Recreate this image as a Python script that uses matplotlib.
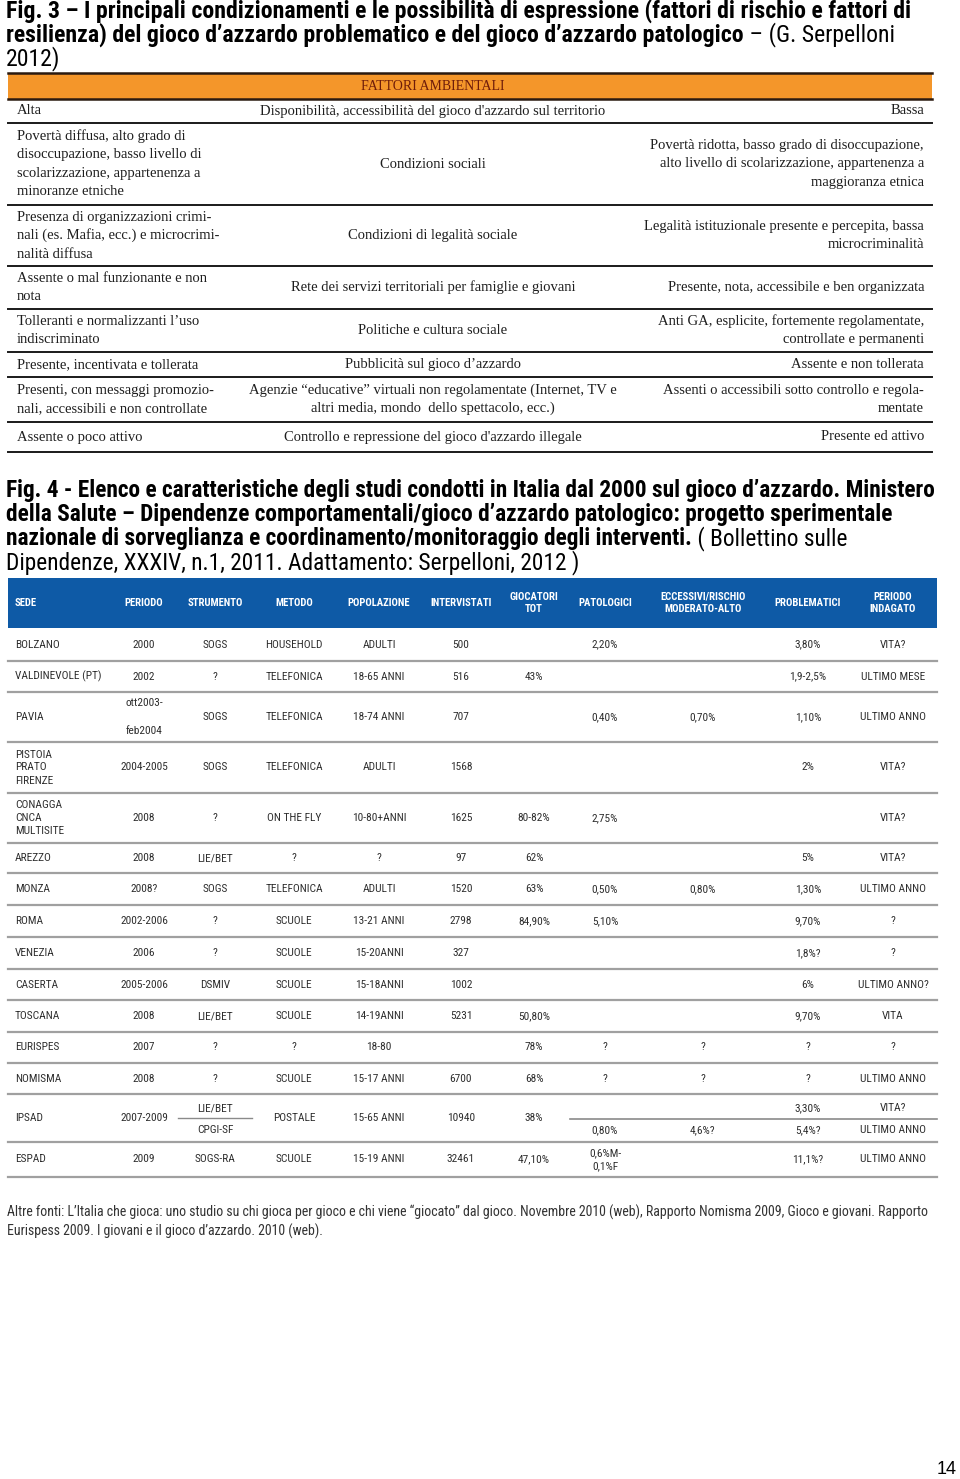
import matplotlib
matplotlib.use('Agg')
import matplotlib.pyplot as plt
from matplotlib import font_manager
from matplotlib.patches import Rectangle

# ---------------- Fig. 3 text ----------------
fig3_title = [
    [('Fig. 3 – I principali condizionamenti e le possibilità di espressione (fattori di rischio e fattori di', 'bold')],
    [('resilienza) del gioco d’azzardo problematico e del gioco d’azzardo patologico', 'bold'), (' – (G. Serpelloni', 'normal')],
    [('2012)', 'normal')],
]
f3_header = 'FATTORI AMBIENTALI'
f3_left = [
    'Alta',
    'Povertà diffusa, alto grado di\ndisoccupazione, basso livello di\nscolarizzazione, appartenenza a\nminoranze etniche',
    'Presenza di organizzazioni crimi-\nnali (es. Mafia, ecc.) e microcrimi-\nnalità diffusa',
    'Assente o mal funzionante e non\nnota',
    'Tolleranti e normalizzanti l’uso\nindiscriminato',
    'Presente, incentivata e tollerata',
    'Presenti, con messaggi promozio-\nnali, accessibili e non controllate',
    'Assente o poco attivo',
]
f3_mid = [
    "Disponibilità, accessibilità del gioco d'azzardo sul territorio",
    'Condizioni sociali',
    'Condizioni di legalità sociale',
    'Rete dei servizi territoriali per famiglie e giovani',
    'Politiche e cultura sociale',
    'Pubblicità sul gioco d’azzardo',
    'Agenzie “educative” virtuali non regolamentate (Internet, TV e\naltri media, mondo  dello spettacolo, ecc.)',
    "Controllo e repressione del gioco d'azzardo illegale",
]
f3_right = [
    'Bassa',
    'Povertà ridotta, basso grado di disoccupazione,\nalto livello di scolarizzazione, appartenenza a\nmaggioranza etnica',
    'Legalità istituzionale presente e percepita, bassa\nmicrocriminalità',
    'Presente, nota, accessibile e ben organizzata',
    'Anti GA, esplicite, fortemente regolamentate,\ncontrollate e permanenti',
    'Assente e non tollerata',
    'Assenti o accessibili sotto controllo e regola-\nmentate',
    'Presente ed attivo',
]

# ---------------- Fig. 4 text ----------------
fig4_title = [
    [('Fig. 4 - Elenco e caratteristiche degli studi condotti in Italia dal 2000 sul gioco d’azzardo. Ministero', 'bold')],
    [('della Salute – Dipendenze comportamentali/gioco d’azzardo patologico: progetto sperimentale', 'bold')],
    [('nazionale di sorveglianza e coordinamento/monitoraggio degli interventi.', 'bold'), (' ( Bollettino sulle', 'normal')],
    [('Dipendenze, XXXIV, n.1, 2011. Adattamento: Serpelloni, 2012 )', 'normal')],
]
f4_cols = ['SEDE', 'PERIODO', 'STRUMENTO', 'METODO', 'POPOLAZIONE', 'INTERVISTATI',
           'GIOCATORI\nTOT', 'PATOLOGICI', 'ECCESSIVI/RISCHIO\nMODERATO-ALTO',
           'PROBLEMATICI', 'PERIODO\nINDAGATO']
sede = ['BOLZANO', 'VALDINEVOLE (PT)', 'PAVIA', 'PISTOIA\nPRATO\nFIRENZE',
        'CONAGGA\nCNCA\nMULTISITE', 'AREZZO', 'MONZA', 'ROMA', 'VENEZIA', 'CASERTA',
        'TOSCANA', 'EURISPES', 'NOMISMA', 'IPSAD', 'ESPAD']
periodo = ['2000', '2002', 'ott2003-\n\nfeb2004', '2004-2005', '2008', '2008', '2008?',
           '2002-2006', '2006', '2005-2006', '2008', '2007', '2008', '2007-2009', '2009']
strumento = ['SOGS', '?', 'SOGS', 'SOGS', '?', 'LIE/BET', 'SOGS', '?', '?', 'DSMIV',
             'LIE/BET', '?', '?', ('LIE/BET', 'CPGI-SF'), 'SOGS-RA']
metodo = ['HOUSEHOLD', 'TELEFONICA', 'TELEFONICA', 'TELEFONICA', 'ON THE FLY', '?',
          'TELEFONICA', 'SCUOLE', 'SCUOLE', 'SCUOLE', 'SCUOLE', '?', 'SCUOLE',
          'POSTALE', 'SCUOLE']
popolazione = ['ADULTI', '18-65 ANNI', '18-74 ANNI', 'ADULTI', '10-80+ANNI', '?', 'ADULTI',
               '13-21 ANNI', '15-20ANNI', '15-18ANNI', '14-19ANNI', '18-80', '15-17 ANNI',
               '15-65 ANNI', '15-19 ANNI']
intervistati = ['500', '516', '707', '1568', '1625', '97', '1520', '2798', '327', '1002',
                '5231', '', '6700', '10940', '32461']
giocatori = ['', '43%', '', '', '80-82%', '62%', '63%', '84,90%', '', '', '50,80%', '78%',
             '68%', '38%', '47,10%']
patologici = ['2,20%', '', '0,40%', '', '2,75%', '', '0,50%', '5,10%', '', '', '', '?', '?',
              ('', '0,80%'), '0,6%M-\n0,1%F']
eccessivi = ['', '', '0,70%', '', '', '', '0,80%', '', '', '', '', '?', '?',
             ('', '4,6%?'), '']
problematici = ['3,80%', '1,9-2,5%', '1,10%', '2%', '', '5%', '1,30%', '9,70%', '1,8%?',
                '6%', '9,70%', '?', '?', ('3,30%', '5,4%?'), '11,1%?']
periodo_ind = ['VITA?', 'ULTIMO MESE', 'ULTIMO ANNO', 'VITA?', 'VITA?', 'VITA?',
               'ULTIMO ANNO', '?', '?', 'ULTIMO ANNO?', 'VITA', '?', 'ULTIMO ANNO',
               ('VITA?', 'ULTIMO ANNO'), 'ULTIMO ANNO']
footer = ['Altre fonti: L’Italia che gioca: uno studio su chi gioca per gioco e chi viene “giocato” '
          'dal gioco. Novembre 2010 (web), Rapporto Nomisma 2009, Gioco e giovani. Rapporto',
          'Eurispess 2009. I giovani e il gioco d’azzardo. 2010 (web).']
page_no = '14'

# ---------------- fonts: look for a condensed sans, else plain Liberation Sans ----------------
fonts = font_manager.fontManager.ttflist
names = {f.name for f in fonts}
NARROW_KW = None
for cand in ('Liberation Sans Narrow', 'Roboto Condensed', 'Open Sans Condensed',
             'Noto Sans Condensed', 'DejaVu Sans Condensed'):
    if cand in names:
        NARROW_KW = dict(family=cand)
        break
if NARROW_KW is None:
    for f in fonts:
        if f.stretch in ('condensed', 'semi-condensed') and 'Mono' not in f.name \
                and 'Serif' not in f.name:
            NARROW_KW = dict(family=f.name, fontstretch=f.stretch)
            break
HAVE_NARROW = NARROW_KW is not None
if not HAVE_NARROW:
    NARROW_KW = dict(family='Liberation Sans')
SERIF = 'Liberation Serif'

W, H = 960, 1479
fig = plt.figure(figsize=(W / 100, H / 100), dpi=100)
ax = fig.add_axes([0, 0, 1, 1])
ax.set_xlim(0, W)
ax.set_ylim(H, 0)
ax.axis('off')
rend = fig.canvas.get_renderer()


def size_for(s, width, **kw):
    t = ax.text(0, 0, s, fontsize=10, **kw)
    w = t.get_window_extent(renderer=rend).width
    t.remove()
    return 10 * width / w


def put(x, y, s, size, dy, ha='left', **kw):
    lines = s.split('\n')
    n = len(lines)
    for i, line in enumerate(lines):
        ax.text(x, y + (i - (n - 1) / 2) * dy, line, fontsize=size, ha=ha, va='center', **kw)


def rich_line(x, y, parts, size):
    for s, w in parts:
        t = ax.text(x, y, s, fontsize=size, fontweight=w, ha='left', va='center',
                    color='black', **NARROW_KW)
        x += t.get_window_extent(renderer=rend).width


# ---------------- titles ----------------
ts3 = size_for(fig3_title[0][0][0], 906, fontweight='bold', **NARROW_KW)
for i, parts in enumerate(fig3_title):
    rich_line(6, 11 + 24 * i, parts, ts3)
ts4 = size_for(fig4_title[0][0][0], 932, fontweight='bold', **NARROW_KW)
for i, parts in enumerate(fig4_title):
    rich_line(6, 491 + 24 * i, parts, ts4)

# ---------------- Fig. 3 table ----------------
x0, x1 = 8, 932
ax.add_patch(Rectangle((x0, 73), x1 - x0, 26, facecolor='#F4962A', edgecolor='none'))
for y in (73, 99):
    ax.plot([x0, x1], [y, y], color='#2a1a10', lw=1.8)
s3 = size_for(f3_mid[0], 349, family=SERIF)
ax.text(433, 86, f3_header, fontsize=s3 * 0.95, family=SERIF, color='#6e1c0a',
        ha='center', va='center')
f3_lines = [99, 123, 205, 266, 309, 352, 377, 422, 452]
for k in range(len(f3_left)):
    yc = (f3_lines[k] + f3_lines[k + 1]) / 2
    kw = dict(family=SERIF, color='#1e1e1e')
    put(17, yc, f3_left[k], s3, 18.5, ha='left', **kw)
    put(433, yc, f3_mid[k], s3, 18.5, ha='center', **kw)
    put(924, yc, f3_right[k], s3, 18.5, ha='right', **kw)
    ax.plot([x0, x1], [f3_lines[k + 1]] * 2, color='#1a1a1a', lw=1.4)

# ---------------- Fig. 4 table ----------------
tx0, tx1 = 8, 937
ax.add_patch(Rectangle((tx0, 578), tx1 - tx0, 50, facecolor='#0E5AA6', edgecolor='none'))
col_x = [15, 144, 215, 294, 379, 461, 534, 605, 703, 808, 893]
hs = size_for('INTERVISTATI', 62 if HAVE_NARROW else 66, fontweight='bold', **NARROW_KW)
for j, c in enumerate(f4_cols):
    put(col_x[j], 603, c, hs, 12, ha='left' if j == 0 else 'center',
        fontweight='bold', color='white', **NARROW_KW)

cs = size_for('HOUSEHOLD', 58 if HAVE_NARROW else 68, **NARROW_KW)
row_lines = [628, 661, 692, 742, 793, 843, 873, 905, 937, 969, 1000, 1032, 1063, 1094, 1142, 1177]
columns = [sede, periodo, strumento, metodo, popolazione, intervistati, giocatori,
           patologici, eccessivi, problematici, periodo_ind]
for r in range(len(sede)):
    ya, yb = row_lines[r], row_lines[r + 1]
    yc = (ya + yb) / 2
    for j, col in enumerate(columns):
        v = col[r]
        ha = 'left' if j == 0 else 'center'
        kw = dict(color='#2e2e2e', **NARROW_KW)
        if isinstance(v, tuple):
            put(col_x[j], yc - 10, v[0], cs, 13, ha=ha, **kw)
            put(col_x[j], yc + 12, v[1], cs, 13, ha=ha, **kw)
        else:
            put(col_x[j], yc, v, cs, 13.5 if j == 1 else 13, ha=ha, **kw)
    if any(isinstance(col[r], tuple) for col in columns):
        ax.plot([col_x[2] - 37, col_x[2] + 37], [yc, yc], color='#8a8a8a', lw=1.0)
        ax.plot([(col_x[6] + col_x[7]) / 2, tx1], [yc + 1, yc + 1], color='#8a8a8a', lw=1.2)
    ax.plot([tx0, tx1], [yb, yb], color='#a0a0a0', lw=1.6)

# ---------------- footer ----------------
fs = size_for(footer[0], 918, **NARROW_KW)
for i, line in enumerate(footer):
    ax.text(7, 1212 + 19 * i, line, fontsize=fs, color='#333333',
            ha='left', va='center', **NARROW_KW)
ax.text(957, 1469, page_no, fontsize=13, family='Liberation Sans', color='black',
        ha='right', va='center')

fig.savefig('out.png', dpi=100)
